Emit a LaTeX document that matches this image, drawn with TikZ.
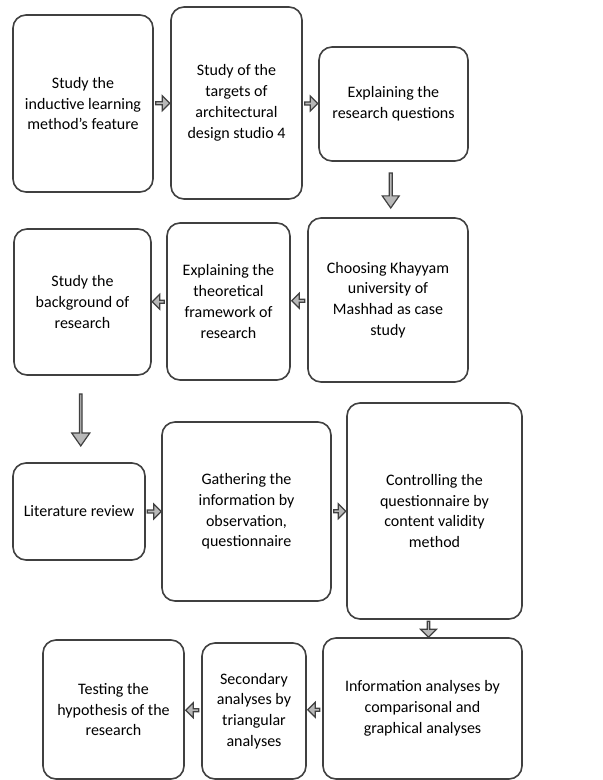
\documentclass[tikz,border=0pt]{standalone}
\usepackage{fontspec}
\setmainfont{Carlito}
\usetikzlibrary{calc, shapes.arrows}
\definecolor{boxLine}{gray}{0.25}
\definecolor{arrowFill}{gray}{0.72}

\begin{document}
\begin{tikzpicture}[x=1pt, y=-1pt,
    stage/.style={draw=boxLine, line width=1.6pt, rounded corners=13pt, align=center, inner sep=2pt,
        font=\fontsize{16}{20.8}\selectfont},
    flow/.style={single arrow, draw=boxLine, fill=arrowFill, line width=1.2pt, inner sep=0pt,
        minimum width=15pt, minimum height=13pt, single arrow head extend=2.5pt, single arrow tip angle=90}]
    \useasboundingbox (0,0) rectangle (603,780);

    % Row 1
    \node[stage, minimum width=140pt, minimum height=177pt] (inductive) at (83,103.5)
        {Study the\\inductive learning\\method’s feature};
    \node[stage, minimum width=131pt, minimum height=192pt] (targets) at (236.5,103)
        {Study of the\\targets of\\architectural\\design studio 4};
    \node[stage, minimum width=149pt, minimum height=114pt] (questions) at (393.5,104)
        {Explaining the\\research questions};

    % Row 2
    \node[stage, minimum width=160pt, minimum height=164pt] (khayyam) at (388,300)
        {Choosing Khayyam\\university of\\Mashhad as case\\study};
    \node[stage, minimum width=123pt, minimum height=157pt] (framework) at (228.5,301.5)
        {Explaining the\\theoretical\\framework of\\research};
    \node[stage, minimum width=137pt, minimum height=146pt] (background) at (82.5,302)
        {Study the\\background of\\research};

    % Row 3
    \node[stage, minimum width=132pt, minimum height=97pt] (literature) at (79,511.5)
        {Literature review};
    \node[stage, minimum width=169pt, minimum height=179pt] (gathering) at (246.5,511.5)
        {Gathering the\\information by\\observation,\\questionnaire};
    \node[stage, minimum width=175pt, minimum height=216pt] (controlling) at (434.5,511)
        {Controlling the\\questionnaire by\\content validity\\method};

    % Row 4
    \node[stage, minimum width=199pt, minimum height=141pt] (information) at (422.5,708.5)
        {Information analyses by\\comparisonal and\\graphical analyses};
    \node[stage, minimum width=104pt, minimum height=136pt] (secondary) at (254,711)
        {Secondary\\analyses by\\triangular\\analyses};
    \node[stage, minimum width=141pt, minimum height=139pt] (testing) at (113.5,709.5)
        {Testing the\\hypothesis of the\\research};

    % Block arrows
    \node[flow, minimum height=14pt] (a1) at ($(inductive.east)!0.5!(targets.west)$) {};
    \node[flow] (a2) at ($(targets.east)!0.5!(questions.west)$) {};
    \node[flow, rotate=-90, minimum height=35pt, minimum width=17pt, single arrow head extend=3pt,
        single arrow tip angle=70] (a3) at ($(questions.south)!0.5!(khayyam.north)$) {};
    \node[flow, rotate=180] (a4) at ($(khayyam.west)!0.5!(framework.east)$) {};
    \node[flow, rotate=180, minimum height=12pt] (a5) at ($(framework.west)!0.5!(background.east)$) {};
    \node[flow, rotate=-90, minimum height=52pt, minimum width=18pt, single arrow head extend=3.5pt,
        single arrow tip angle=70] (a6) at ($(background.south)!0.5!(literature.north)$) {};
    \node[flow, minimum height=14pt] (a7) at ($(literature.east)!0.5!(gathering.west)$) {};
    \node[flow, minimum height=12pt] (a8) at ($(gathering.east)!0.5!(controlling.west)$) {};
    \node[flow, rotate=-90, minimum height=16pt, minimum width=16pt, single arrow head extend=3pt]
        (a9) at ($(controlling.south)!0.5!(information.north)$) {};
    \node[flow, rotate=180, minimum height=12pt] (a10) at ($(information.west)!0.5!(secondary.east)$) {};
    \node[flow, rotate=180] (a11) at ($(secondary.west)!0.5!(testing.east)$) {};
\end{tikzpicture}
\end{document}
